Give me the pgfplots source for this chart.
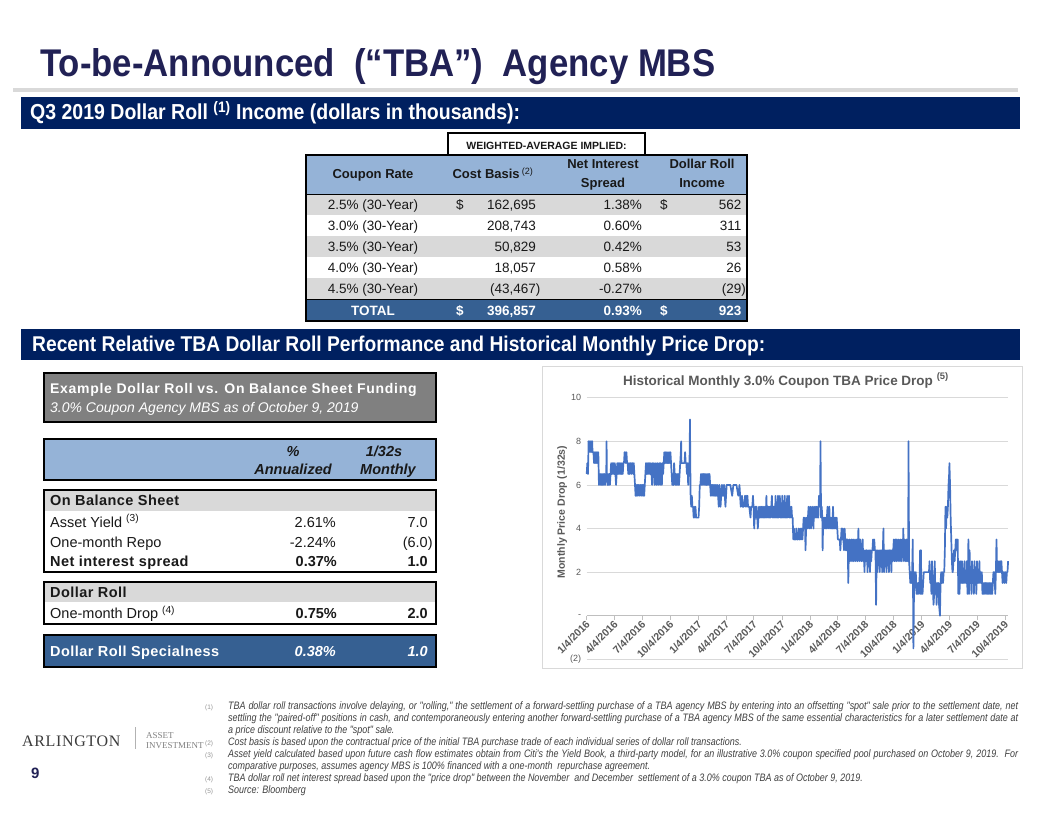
\documentclass[border=0pt]{standalone}
\usepackage{fontspec}
\setmainfont{Liberation Sans}
\newfontfamily\narrowfont[FakeStretch=0.83]{Liberation Sans}
\newfontfamily\titlefont[FakeStretch=0.9]{Liberation Sans}
\newfontfamily\spacedfont[LetterSpace=3]{Liberation Sans}
\newfontfamily\spacedwide[LetterSpace=5]{Liberation Sans}
\newfontfamily\logofont{Liberation Serif}
\newfontfamily\logospaced[LetterSpace=4]{Liberation Serif}
\usepackage{graphicx}
\usepackage{pgfplots}
\pgfplotsset{compat=1.18}
\usepackage{pgfplotstable}

\definecolor{navy}{RGB}{0,32,96}
\definecolor{titlenavy}{RGB}{33,33,85}
\definecolor{hdrblue}{RGB}{149,179,215}
\definecolor{rowgray}{RGB}{217,217,217}
\definecolor{totblue}{RGB}{54,96,146}
\definecolor{boxgray}{RGB}{128,128,128}
\definecolor{linecol}{RGB}{68,114,196}
\definecolor{gridgray}{RGB}{217,217,217}
\definecolor{axgray}{RGB}{191,191,191}
\definecolor{labgray}{RGB}{89,89,89}
\definecolor{fngray}{RGB}{64,64,64}
\definecolor{fnmark}{RGB}{150,150,150}
\definecolor{txt}{RGB}{25,25,25}
\definecolor{logogray}{RGB}{60,60,60}

\newcommand{\TL}[3]{\node[anchor=base west,inner sep=0pt] at (#1,#2) {#3};}
\newcommand{\TR}[3]{\node[anchor=base east,inner sep=0pt] at (#1,#2) {#3};}
\newcommand{\TC}[3]{\node[anchor=base,inner sep=0pt] at (#1,#2) {#3};}
\newcommand{\tf}{\fontsize{13.5}{16}\selectfont}
\newcommand{\hf}{\fontsize{13}{15}\selectfont}
\newcommand{\lf}{\fontsize{14.5}{17}\selectfont}
\newcommand{\fnf}{\narrowfont\itshape\fontsize{10.8}{12}\selectfont\color{fngray}}
\newcommand{\fnm}[2]{\node[anchor=base west,inner sep=0pt,text=fnmark] at (205,#1) {\fontsize{6.5}{7}\selectfont (#2)};}

\pgfplotstableread{
day val
0 6.5
2 7
4 6.5
5 7
6 8
8 7.5
10 8
12 8
14 7.5
16 8
18 8
19 7.5
20 7.5
22 7.5
24 7
26 7.5
28 7
30 7.5
32 7
34 7.5
36 7
38 7.5
40 6
42 6.5
44 6
46 6.5
48 6
50 6.5
52 6
54 6.5
56 6
58 6.5
60 6
62 6.5
64 6.5
65 8
66 6.5
68 6
70 6.5
72 6
74 6.5
76 6
78 6.5
80 7
82 6.5
84 7
86 6.5
88 7
90 6.5
92 7
94 6.5
96 6
98 6.5
100 7
102 6.5
104 7
106 6.5
108 7
110 6.5
112 7
114 6.5
116 7
118 6.5
120 7
122 7
124 7.5
126 7.5
128 7
130 7.5
132 7
134 7
136 6.5
138 7
140 6.5
142 7
144 7
146 6.5
148 7
150 7
152 6.5
154 7
156 6.5
158 6
160 5.5
162 6
164 5.5
166 6
168 5.5
170 6
172 6
174 5.5
176 6
178 6
180 5.5
182 6
184 5.5
186 6
188 5.5
190 6
192 6.5
194 7
196 6.5
198 7
200 6.5
202 7
204 6.5
206 7
208 6.5
210 7
212 6.5
214 6
216 7
218 6.5
220 7
222 6
224 6.5
226 7
228 6
230 6.5
232 7
234 6
236 6.5
238 7
240 6
242 7
244 6.5
246 6
248 7
250 6.5
252 7
254 7.5
256 7
258 7.5
260 7
262 7.5
264 7
266 7.5
268 7
270 7.5
272 7
274 7.5
276 7
278 6.5
280 6
282 6.5
284 6
286 7
288 6.5
290 6
292 6.5
294 6
296 6.5
298 6
300 6.5
302 6
304 6.5
306 7
308 7.5
309 8
310 7
312 7
314 7
316 7
318 7
320 7
322 7.5
324 7
326 7
328 6.5
330 7
332 6
334 7
336 6.5
338 9
339 7
340 5.5
342 5
344 5.5
346 5
348 5
350 4.5
352 5
354 4.5
356 5
358 4.5
360 4.5
364 4.5
366 4.5
368 5
370 6
372 6
374 6.5
376 6
378 6.5
380 6
382 6.5
384 6
386 6.5
388 6
390 6.5
392 6
394 6.5
396 6
398 6.5
400 6
402 6.5
404 6
406 5.5
408 6
410 5.5
412 6
414 5.5
416 6
418 5.5
420 6
422 5.5
424 6
426 5.5
428 6
430 5.5
432 5
434 6
436 5.5
438 5
440 5.5
442 6
444 5.5
446 6
448 5.5
450 6
452 5.5
454 5
456 5.5
458 6
462 6
470 6
476 5.5
480 6
490 6
496 5.5
500 6
504 5
508 5.5
510 5
514 5
518 5.5
520 5
522 5.5
524 5
526 5.5
528 5
532 5
536 4.5
538 5
542 5
544 5.5
546 5
548 4
550 4.5
552 5
554 4.5
556 5
558 4.5
560 4
562 4.5
564 5
566 4.5
568 5
570 4.5
572 5
574 4.5
576 5
578 4.5
580 5
582 4.5
584 5
586 4.5
588 5.5
590 4.5
592 5
594 4.5
596 5
598 4.5
600 5
602 4.5
604 5
606 5.5
608 4.5
610 5
612 4.5
614 5
616 4.5
618 5.5
620 4.5
622 5
624 4.5
626 5.5
628 4.5
630 5
632 5.5
634 4.5
636 5
638 4.5
640 5.5
642 4.5
644 5
646 4.5
648 5.5
650 4.5
652 5
654 4.5
656 5.5
658 4.5
660 5
662 5.5
664 4.5
666 5
668 4.5
670 5
672 4.5
674 4.5
676 3.5
678 4
680 3.5
682 3.5
684 3.5
686 4
688 3.5
690 3.5
692 3.5
694 4
696 3.5
698 3.5
700 4
702 3.5
704 4
706 3.5
708 4
710 4.5
712 4
714 4.5
716 3
718 4
720 4.5
722 4
724 4.5
726 5
728 4
730 4.5
732 5
734 4
736 4.5
738 5
740 4.5
742 4
744 5
746 4.5
748 5
750 4.5
752 5
754 4.5
756 5
758 4.5
760 5.5
762 5
764 5.5
765 8
767 4.5
769 5
771 4.5
772 3
774 4.5
776 4
778 4.5
780 4
782 4.5
784 4
786 4.5
788 5
790 4
792 4.5
794 5
796 4
798 4.5
800 4
802 4.5
804 4
806 5
808 4
810 4.5
812 4
814 4.5
816 4
818 4.5
820 4
822 3.5
824 3.5
826 3.5
828 3.5
830 3
832 3.5
834 4
836 3.5
838 4
840 3.5
842 3
844 4
846 3.5
848 3
850 3.5
852 3
854 3.5
856 1.5
858 3
860 3.5
862 2.5
864 3
866 3.5
868 2.5
870 3
872 3.5
874 2.5
876 3
878 3.5
880 2.5
882 3
884 3.5
886 2.5
888 3
889 4
891 3
893 2.5
895 3.5
897 3
899 2.5
901 3
903 3.5
905 2.5
907 3
909 2
911 3
913 2.5
915 3
917 3
919 2
921 3
923 2.5
925 3
927 2
929 3
931 2.5
933 3
935 3
937 3.5
939 3
941 3.5
943 3
945 3
947 0.5
949 3
951 2
953 3
955 2.5
957 3
959 2
961 3
963 2.5
965 3
967 2
969 3
971 4
973 2
975 3
977 2.5
979 3
981 2
983 3
985 2.5
987 3
989 2
991 3
993 2.5
995 3
997 2
999 3
1001 2.5
1003 3
1005 3.5
1007 2.5
1009 3
1011 3.5
1013 2.5
1015 3.5
1017 3
1019 2.5
1021 3.5
1023 3
1025 2.5
1027 3.5
1029 3
1031 2.5
1033 3.5
1035 3
1036 4
1038 2.5
1040 3.5
1042 3
1044 2.5
1046 3.5
1048 2.5
1050 3.5
1052 2.5
1053 8
1055 2.5
1057 2
1059 1.5
1061 2
1063 1.5
1065 2
1067 3.5
1069 -1.5
1071 1
1073 2
1075 1.5
1077 2
1079 1
1081 1.5
1083 1
1085 1.5
1087 1
1089 1.5
1091 3
1092 1
1094 3
1095 1
1097 1.5
1099 1
1101 1.5
1103 2
1107 2
1115 2
1120 2
1122 2.5
1124 1.5
1126 2
1128 1
1130 2.5
1132 1.5
1135 0.5
1137 1
1139 2.5
1141 1
1143 1.5
1145 0.5
1147 1.5
1149 1
1151 1.5
1153 0.5
1156 0
1158 1.5
1160 2
1162 1.5
1164 2
1166 1.5
1168 2
1170 2
1172 3
1174 5
1176 4
1178 5
1180 4.5
1182 5
1184 6
1186 6.5
1187 7
1189 6
1191 4.5
1193 3.5
1195 2.5
1197 2
1198 2
1200 2.5
1202 3
1204 2.5
1206 3
1208 3.5
1210 3.5
1212 3
1214 3.5
1216 1
1218 2.5
1220 1
1222 2
1224 2.5
1226 1.5
1228 2.5
1230 1.5
1232 2
1234 1.5
1236 2.5
1238 1.5
1240 2
1242 1.5
1244 2.5
1246 1
1248 2
1249 3.5
1251 1
1253 3
1255 1.5
1257 2
1259 1
1261 2.5
1263 1.5
1265 2
1267 1
1269 2.5
1271 1.5
1273 2
1275 1
1277 2.5
1279 1.5
1281 2
1283 1.5
1285 2.5
1287 1.5
1289 2
1291 1.5
1293 2
1295 1
1297 1.5
1299 1
1301 1.5
1303 1
1305 1.5
1307 1
1309 1.5
1311 1
1313 1.5
1315 1
1317 1.5
1319 1
1321 1.5
1323 1
1325 1.5
1327 1
1329 1.5
1331 2
1334 2
1337 1
1339 2
1341 3.5
1343 2
1345 2.5
1347 2
1349 2.5
1351 2
1353 2.5
1355 2
1357 2.5
1359 2
1361 1.5
1363 2
1365 2
1367 1.5
1369 2
1371 2
1373 1.5
1375 2
1377 2
1379 2.5
}\pricedrop

\begin{document}
\begin{tikzpicture}
\begin{scope}[x=1pt,y=-1pt]
\useasboundingbox (0,0) rectangle (1056,816);
\fill[white] (0,0) rectangle (1056,816);
% title
\node[anchor=base west,inner sep=0pt,text=titlenavy] at (40,76) {\resizebox{675pt}{!}{\titlefont\bfseries\fontsize{30}{36}\selectfont To-be-Announced \ (“TBA”) \ Agency MBS}};
\fill[gridgray] (13,88) rectangle (1018,92);
% banners
\fill[navy] (21,97) rectangle (1020,129);
\node[anchor=base west,inner sep=0pt,text=white] at (30,119.5) {\resizebox{490pt}{!}{\titlefont\bfseries\fontsize{19}{22}\selectfont Q3 2019 Dollar Roll \textsuperscript{(1)} Income (dollars in thousands):}};
\fill[navy] (21,329) rectangle (1020,360);
\node[anchor=base west,inner sep=0pt,text=white] at (32,351) {\resizebox{733pt}{!}{\titlefont\bfseries\fontsize{19}{22}\selectfont Recent Relative TBA Dollar Roll Performance and Historical Monthly Price Drop:}};

% top table
\fill[hdrblue] (306,155) rectangle (747,194);
\fill[rowgray] (306,194) rectangle (747,215);
\fill[rowgray] (306,236) rectangle (747,257);
\fill[rowgray] (306,278) rectangle (747,299);
\fill[totblue] (306,299) rectangle (747,321);
\draw[line width=1pt] (306,194) -- (747,194);
\draw[line width=1pt] (306,299) -- (747,299);
\draw[line width=1.8pt] (306,155) rectangle (747,321);
\draw[line width=1.8pt,fill=white] (448,133) rectangle (645,155);
\TC{546.5}{149}{\bfseries\fontsize{10.5}{12}\selectfont\color{txt}WEIGHTED-AVERAGE IMPLIED:}
\begin{scope}[text=txt]
\TC{373}{178.5}{\hf\bfseries Coupon Rate}
\TC{493}{178.5}{\hf\bfseries Cost Basis\,\textsuperscript{\mdseries (2)}}
\TC{603}{168.5}{\hf\bfseries Net Interest}
\TC{603}{187.5}{\hf\bfseries Spread}
\TC{702}{168.5}{\hf\bfseries Dollar Roll}
\TC{702}{187.5}{\hf\bfseries Income}
\TC{373}{209.5}{\tf 2.5\% (30-Year)}
\TC{373}{230.5}{\tf 3.0\% (30-Year)}
\TC{373}{251.5}{\tf 3.5\% (30-Year)}
\TC{373}{272.5}{\tf 4.0\% (30-Year)}
\TC{373}{293.5}{\tf 4.5\% (30-Year)}
\TL{456}{209.5}{\tf \$}
\TR{536}{209.5}{\tf 162,695}
\TR{536}{230.5}{\tf 208,743}
\TR{536}{251.5}{\tf 50,829}
\TR{536}{272.5}{\tf 18,057}
\TR{536}{293.5}{\tf (43,467\rlap{)}}
\TR{642}{209.5}{\tf 1.38\%}
\TR{642}{230.5}{\tf 0.60\%}
\TR{642}{251.5}{\tf 0.42\%}
\TR{642}{272.5}{\tf 0.58\%}
\TR{642}{293.5}{\tf -0.27\%}
\TL{660}{209.5}{\tf \$}
\TR{741.5}{209.5}{\tf 562}
\TR{741.5}{230.5}{\tf 311}
\TR{741.5}{251.5}{\tf 53}
\TR{741.5}{272.5}{\tf 26}
\TR{741.5}{293.5}{\tf (29\rlap{)}}
\end{scope}
\begin{scope}[text=white]
\TC{373}{315}{\tf\bfseries TOTAL}
\TL{456}{315}{\tf\bfseries \$}
\TR{536}{315}{\tf\bfseries 396,857}
\TR{642}{315}{\tf\bfseries 0.93\%}
\TL{660}{315}{\tf\bfseries \$}
\TR{741.5}{315}{\tf\bfseries 923}
\end{scope}

% left tables
\draw[line width=2pt,fill=boxgray] (44,373) rectangle (436,422);
\TL{50}{393.5}{\color{white}\spacedwide\bfseries\fontsize{14}{16}\selectfont Example Dollar Roll vs. On Balance Sheet Funding}
\TL{50}{412}{\color{white}\itshape\fontsize{14}{16}\selectfont 3.0\% Coupon Agency MBS as of October 9, 2019}
\draw[line width=2pt,fill=hdrblue] (44,439) rectangle (436,480);
\begin{scope}[text=txt]
\TC{293}{456}{\lf\bfseries\itshape \%}
\TC{293}{474.5}{\lf\bfseries\itshape Annualized}
\TC{384}{456}{\lf\bfseries\itshape 1/32s}
\TC{388}{474.5}{\lf\bfseries\itshape Monthly}
\end{scope}
\fill[rowgray] (44,490) rectangle (436,511);
\draw[line width=2pt] (44,490) rectangle (436,572);
\fill[rowgray] (44,582) rectangle (436,602);
\draw[line width=2pt] (44,582) rectangle (436,624);
\draw[line width=2pt,fill=totblue] (44,635) rectangle (436,667);
\begin{scope}[text=txt]
\TL{50}{505.5}{\spacedfont\lf\bfseries On Balance Sheet}
\TL{50}{527}{\lf Asset Yield \textsuperscript{(3)}}
\TR{336}{527}{\lf 2.61\%}
\TR{428}{527}{\lf 7.0}
\TL{50}{547}{\lf One-month Repo}
\TR{336}{547}{\lf -2.24\%}
\TR{428}{547}{\lf (6.0\rlap{)}}
\TL{50}{566}{\spacedfont\lf\bfseries Net interest spread}
\TR{337}{566}{\lf\bfseries 0.37\%}
\TR{428}{566}{\lf\bfseries 1.0}
\TL{50}{597.5}{\spacedfont\lf\bfseries Dollar Roll}
\TL{50}{618.5}{\lf One-month Drop \textsuperscript{(4)}}
\TR{337}{618.5}{\lf\bfseries 0.75\%}
\TR{428}{618.5}{\lf\bfseries 2.0}
\end{scope}
\begin{scope}[text=white]
\TL{50}{656}{\spacedfont\lf\bfseries Dollar Roll Specialness}
\TR{336}{656}{\lf\bfseries\itshape 0.38\%}
\TR{428}{656}{\lf\bfseries\itshape 1.0}
\end{scope}

% chart frame
\draw[rowgray,line width=0.8pt] (542,366) rectangle (1022,668);

% logo and page number
\TL{22}{746}{\color{logogray}\logospaced\fontsize{16}{18}\selectfont ARLINGTON}
\draw[gray!60,line width=0.6pt] (135,727) -- (135,749);
\TL{146}{738}{\color{gray}\logofont\fontsize{9}{10}\selectfont ASSET}
\TL{146}{748}{\color{gray}\logofont\fontsize{9}{10}\selectfont INVESTMENT}
\TL{31}{778}{\color{titlenavy}\bfseries\fontsize{15}{18}\selectfont 9}

% footnotes
\fnm{709}{1}
\TL{228}{709}{\fnf\makebox[790pt][s]{TBA dollar roll transactions involve delaying, or "rolling," the settlement of a forward-settling purchase of a TBA agency MBS by entering into an offsetting "spot" sale prior to the settlement date, net}}
\TL{228}{721}{\fnf\makebox[790pt][s]{settling the "paired-off" positions in cash, and contemporaneously entering another forward-settling purchase of a TBA agency MBS of the same essential characteristics for a later settlement date at}}
\TL{228}{733}{\fnf a price discount relative to the "spot" sale.}
\fnm{745}{2}
\TL{228}{745}{\fnf Cost basis is based upon the contractual price of the initial TBA purchase trade of each individual series of dollar roll transactions.}
\fnm{757}{3}
\TL{228}{757}{\fnf\makebox[790pt][s]{Asset yield calculated based upon future cash flow estimates obtain from Citi's the Yield Book, a third-party model, for an illustrative 3.0\% coupon specified pool purchased on October 9, 2019.\ \ For}}
\TL{228}{769}{\fnf comparative purposes, assumes agency MBS is 100\% financed with a one-month\ \ repurchase agreement.}
\fnm{781}{4}
\TL{228}{781}{\fnf TBA dollar roll net interest spread based upon the "price drop" between the November\ \ and December\ \ settlement of a 3.0\% coupon TBA as of October 9, 2019.}
\fnm{793}{5}
\TL{228}{793}{\fnf Source: Bloomberg}
\end{scope}

\begin{axis}[
  at={(586.7pt,-659.3pt)}, anchor=south west,
  scale only axis, width=421.7pt, height=261.6pt,
  xmin=0, xmax=1380, ymin=-2, ymax=10,
  enlargelimits=false,
  axis x line=middle, axis y line=left,
  hide obscured x ticks=false,
  x axis line style={-, draw=axgray, line width=0.8pt},
  y axis line style={draw=none},
  ytick={-2,0,2,4,6,8,10},
  yticklabels={(2),-,2,4,6,8,10},
  ymajorgrids, grid style={draw=gridgray, line width=0.8pt},
  ytick style={draw=none},
  xtick={0,91,182,274,366,456,547,639,731,821,912,1004,1096,1186,1277,1369},
  xticklabels={1/4/2016,4/4/2016,7/4/2016,10/4/2016,1/4/2017,4/4/2017,7/4/2017,10/4/2017,1/4/2018,4/4/2018,7/4/2018,10/4/2018,1/4/2019,4/4/2019,7/4/2019,10/4/2019},
  xtick style={draw=axgray, line width=0.8pt},
  major tick length=4pt,
  xtick align=outside,
  xticklabel style={rotate=45, anchor=east, font=\bfseries\fontsize{10.5}{12}\selectfont, text=labgray, inner sep=1pt, yshift=-3pt},
  yticklabel style={font=\fontsize{9}{10}\selectfont, text=labgray},
  /pgf/number format/assume math mode=true,
  ylabel={Monthly Price Drop (1/32s)},
  ylabel style={at={(axis description cs:-0.058,0.563)}, anchor=center, font=\bfseries\fontsize{10.5}{12}\selectfont, text=labgray},
  clip=false,
]
\addplot[color=linecol, line width=1.7pt, mark=none, line join=round] table[x=day,y=val] {\pricedrop};
\end{axis}

\begin{scope}[x=1pt,y=-1pt]
\node[anchor=base,inner sep=0pt,text=labgray] at (786,385) {\bfseries\fontsize{13.5}{16}\selectfont Historical Monthly 3.0\% Coupon TBA Price Drop \textsuperscript{(5)}};
\end{scope}
\end{tikzpicture}
\end{document}
